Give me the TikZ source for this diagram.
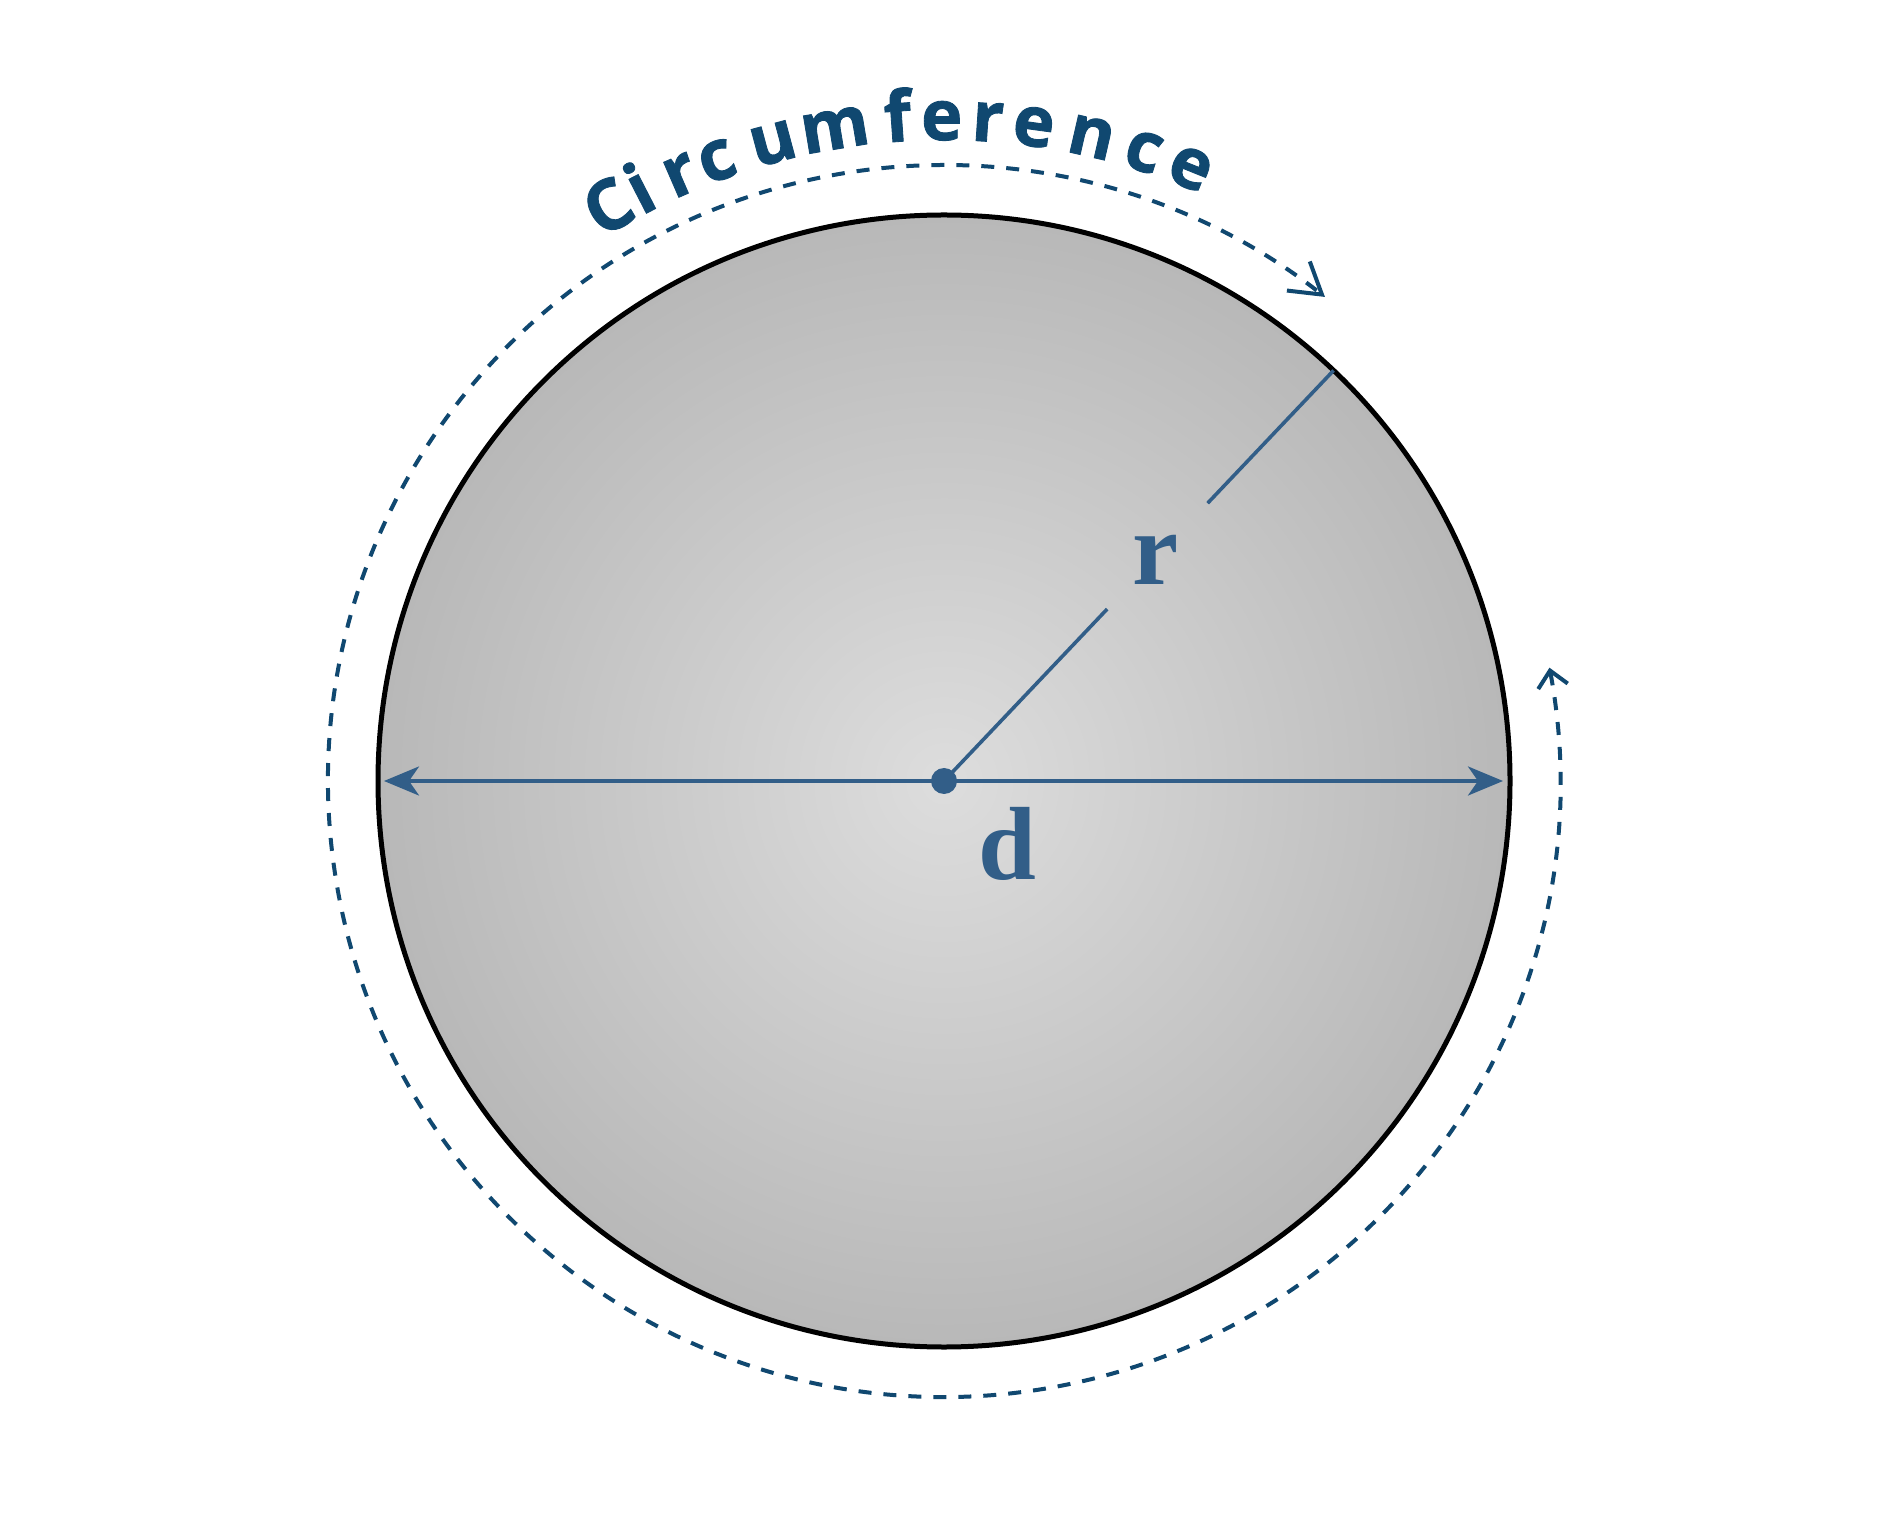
\documentclass[tikz,border=0pt]{standalone}
\usepackage{fontspec}
\newfontfamily\circfont{Open Sans}[BoldFeatures={FakeBold=1.2}]
\newfontfamily\lblfont{Liberation Serif}
\usetikzlibrary{arrows.meta,calc}
\definecolor{navy}{RGB}{16,72,112}
\definecolor{steel}{RGB}{50,94,136}
\definecolor{shin}{RGB}{221,221,221}
\definecolor{shout}{RGB}{184,184,184}
\begin{document}
\begin{tikzpicture}[x=0.5pt,y=0.5pt,
  letter/.style={text=navy, font=\fontsize{35}{35}\selectfont\circfont\bfseries, anchor=base, inner sep=0pt},
  lbl/.style={text=steel, font=\fontsize{52}{52}\selectfont\lblfont\bfseries, inner sep=0pt},
  steelline/.style={draw=steel, line width=1.8pt},
  dashline/.style={draw=navy, line width=2pt, dash pattern=on 6.5pt off 6pt},
  rim/.style={draw=black, line width=2.5pt, shading=radial, inner color=shin, outer color=shout}]
\fill[white] (0,0) rectangle (1888,1522);
\useasboundingbox (0,0) rectangle (1888,1522);
\coordinate (O) at (944,741);
% disc
\path[rim] (O) circle[radius=566];
% circumference arc with arrows
\coordinate (A1) at ([shift={(10.6:616)}]O);
\draw[dashline, {Straight Barb[length=8pt,width=15pt]}-{Straight Barb[length=15pt,width=18.5pt]}]
  (A1) arc[start angle=10.6, end angle=-308.2, radius=616];
% letters
\foreach \ch/\a [count=\i] in {C/120.3, i/117.2, r/113.5, c/110.1, u/105.0, m/99.5, f/94.0, e/90.2, r/86.2, e/82.2, n/77.1, c/72.4, e/68.1}
  \node[letter, rotate=\a-90] (t\i) at ([shift={(\a:641)}]O) {\ch};
% diameter
\coordinate (L) at (384,741);
\coordinate (R) at (1503,741);
\draw[steelline, {Stealth[length=17.5pt,width=14.5pt,inset=5pt]}-{Stealth[length=17.5pt,width=14.5pt,inset=5pt]}] (L) -- (R);
% radius
\coordinate (r1) at ([shift={(46.5:237)}]O);
\coordinate (r2) at ([shift={(46.5:383)}]O);
\coordinate (E) at ([shift={(46.5:566)}]O);
\draw[steelline] (O) -- (r1);
\draw[steelline] (r2) -- (E);
\node[circle, fill=steel, minimum size=13pt, inner sep=0pt] (dot) at (O) {};
% labels
\node[lbl] (rl) at (1156,962) {r};
\node[lbl] (dl) at (1007,678) {d};
\end{tikzpicture}
\end{document}
